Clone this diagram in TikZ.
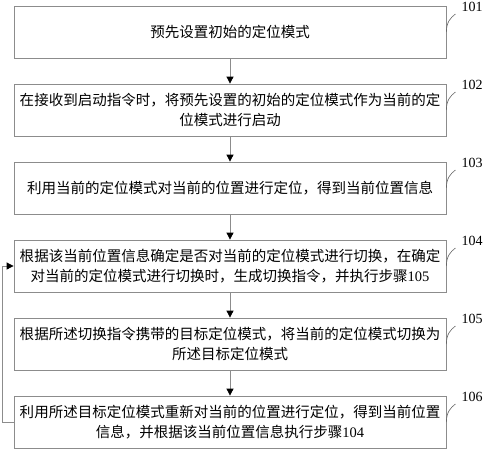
\documentclass[tikz,border=0pt]{standalone}
\usepackage{fontspec}
\setmainfont{Liberation Serif}
\newfontfamily\cjk{Noto Sans CJK SC}
\usetikzlibrary{arrows.meta}
\tikzset{
  stepbox/.style={draw=black!45,line width=0.8pt,minimum width=432pt,minimum height=52pt,
    inner sep=0pt,align=center,font=\cjk\fontsize{14.5}{20}\selectfont},
  arr/.style={draw=black!45,line width=0.8pt,-{Triangle[length=7pt,width=7pt,color=black]}},
  lead/.style={draw=black!60,line width=0.6pt},
  lbl/.style={inner sep=0pt,font=\fontsize{14}{16}\selectfont}
}
\newcommand{\num}[1]{{\rmfamily #1}}
\begin{document}
\begin{tikzpicture}[x=1pt,y=-1pt]
    \useasboundingbox (0,0) rectangle (486,450);
    \node[stepbox] (s1) at (230,32) {预先设置初始的定位模式};
    \node[stepbox] (s2) at (230,110) {在接收到启动指令时，将预先设置的初始的定位模式作为当前的定\\位模式进行启动};
    \node[stepbox] (s3) at (230,188) {利用当前的定位模式对当前的位置进行定位，得到当前位置信息};
    \node[stepbox] (s4) at (230,266) {根据该当前位置信息确定是否对当前的定位模式进行切换，在确定\\对当前的定位模式进行切换时，生成切换指令，并执行步骤\num{105}};
    \node[stepbox] (s5) at (230,344) {根据所述切换指令携带的目标定位模式，将当前的定位模式切换为\\所述目标定位模式};
    \node[stepbox] (s6) at (230,422) {利用所述目标定位模式重新对当前的位置进行定位，得到当前位置\\信息，并根据该当前位置信息执行步骤\num{104}};
    \draw[arr] (s1) -- (s2);
    \draw[arr] (s2) -- (s3);
    \draw[arr] (s3) -- (s4);
    \draw[arr] (s4) -- (s5);
    \draw[arr] (s5) -- (s6);
    \draw[arr] (s6.west) -- ++(-11,0) |- (s4.west);
    \node[lbl] (n1) at (472,7) {101};
    \node[lbl] (n2) at (472,85) {102};
    \node[lbl] (n3) at (472,163) {103};
    \node[lbl] (n4) at (472,241) {104};
    \node[lbl] (n5) at (472,319) {105};
    \node[lbl] (n6) at (472,397) {106};
    \draw[lead] (s1.east) .. controls +(0,-10) and +(-5,4) .. +(9,-18);
    \draw[lead] (s2.east) .. controls +(0,-10) and +(-5,4) .. +(9,-18);
    \draw[lead] (s3.east) .. controls +(0,-10) and +(-5,4) .. +(9,-18);
    \draw[lead] (s4.east) .. controls +(0,-10) and +(-5,4) .. +(9,-18);
    \draw[lead] (s5.east) .. controls +(0,-10) and +(-5,4) .. +(9,-18);
    \draw[lead] (s6.east) .. controls +(0,-10) and +(-5,4) .. +(9,-18);
\end{tikzpicture}
\end{document}
